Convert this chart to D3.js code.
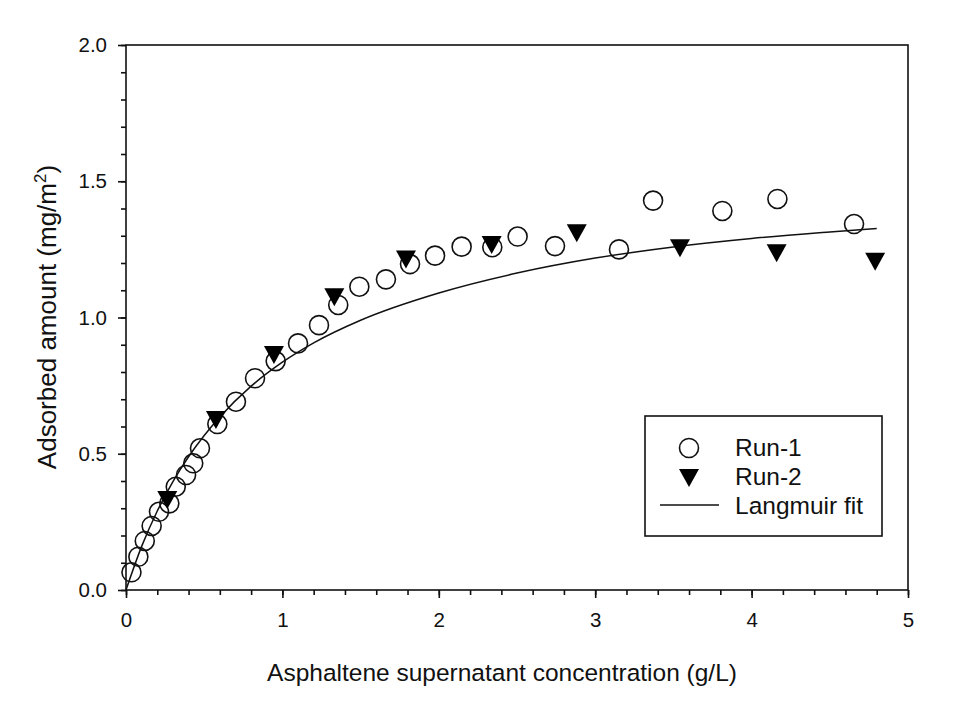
<!DOCTYPE html>
<html>
<head>
<meta charset="utf-8">
<script src="https://cdn.jsdelivr.net/npm/d3@7"></script>
<style>
  html, body { margin: 0; padding: 0; background: #fff; }
  svg { display: block; font-family: Arial, "Liberation Sans", sans-serif; }
</style>
</head>
<body>
<svg id="chart" width="957" height="713"></svg>
<script>
// Run-1 (open circles): supernatant concentration (g/L) vs adsorbed amount (mg/m2)
const run1X = [0.035, 0.079, 0.12, 0.164, 0.211, 0.277, 0.318, 0.384, 0.43, 0.473,
               0.584, 0.703, 0.825, 0.957, 1.10, 1.234, 1.357, 1.492, 1.662, 1.816,
               1.976, 2.146, 2.342, 2.504, 2.743, 3.152, 3.37, 3.813, 4.165, 4.655];
const run1Y = [0.065, 0.122, 0.18, 0.235, 0.287, 0.318, 0.379, 0.422, 0.465, 0.52,
               0.609, 0.691, 0.777, 0.84, 0.905, 0.972, 1.046, 1.113, 1.14, 1.196,
               1.227, 1.26, 1.258, 1.297, 1.262, 1.25, 1.429, 1.391, 1.435, 1.343];

// Run-2 (filled down triangles)
const run2X = [0.264, 0.575, 0.946, 1.332, 1.79, 2.338, 2.882, 3.542, 4.16, 4.79];
const run2Y = [0.33, 0.624, 0.862, 1.074, 1.213, 1.266, 1.309, 1.254, 1.236, 1.205];

// Langmuir fit curve, sampled along its length
const fitX = [0, 0.1, 0.2, 0.3, 0.4, 0.5, 0.6, 0.8, 1.0, 1.2, 1.5, 2.0, 2.5, 3.0, 3.5, 4.0, 4.5, 4.8];
const fitY = [0, 0.160, 0.290, 0.398, 0.489, 0.567, 0.635, 0.748, 0.836, 0.907, 0.990,
              1.090, 1.163, 1.218, 1.259, 1.290, 1.314, 1.327];

// Axis ticks
const xTicks = [0, 1, 2, 3, 4, 5];
const yTicks = [0.0, 0.5, 1.0, 1.5, 2.0];
const legendLabels = ["Run-1", "Run-2", "Langmuir fit"];

const svg = d3.select("#chart");
const plotLeft = 126, plotRight = 908, plotTop = 45, plotBottom = 590;

const x = d3.scaleLinear().domain([0, 5]).range([plotLeft, plotRight]);
const y = d3.scaleLinear().domain([0, 2]).range([plotBottom, plotTop]);

const axisStroke = 1.6;
const ink = "#111";

// minor ticks
const xMinor = d3.range(0, 5.0001, 0.2);
const yMinor = d3.range(0, 2.0001, 0.1);

const xAxisMinor = svg.append("g").attr("transform", `translate(0,${plotBottom})`)
  .call(d3.axisBottom(x).tickValues(xMinor).tickSize(5).tickFormat(""));
const xAxis = svg.append("g").attr("transform", `translate(0,${plotBottom})`)
  .call(d3.axisBottom(x).tickValues(xTicks).tickSize(8).tickPadding(14)
        .tickFormat(d3.format("d")));
const yAxisMinor = svg.append("g").attr("transform", `translate(${plotLeft},0)`)
  .call(d3.axisLeft(y).tickValues(yMinor).tickSize(5).tickFormat(""));
const yAxis = svg.append("g").attr("transform", `translate(${plotLeft},0)`)
  .call(d3.axisLeft(y).tickValues(yTicks).tickSize(8).tickPadding(11)
        .tickFormat(d3.format(".1f")));

[xAxisMinor, xAxis, yAxisMinor, yAxis].forEach(g => {
  g.attr("font-size", null).attr("font-family", null);
  g.selectAll("path.domain").remove();
  g.selectAll(".tick line").attr("stroke", ink).attr("stroke-width", axisStroke);
  g.selectAll(".tick text").attr("fill", ink).style("font-size", "20.5px")
    .style("font-family", "Arial, 'Liberation Sans', sans-serif");
});

// frame
svg.append("rect")
  .attr("x", plotLeft).attr("y", plotTop)
  .attr("width", plotRight - plotLeft).attr("height", plotBottom - plotTop)
  .attr("fill", "none").attr("stroke", ink).attr("stroke-width", axisStroke);

// axis titles
svg.append("text")
  .attr("x", 502).attr("y", 681)
  .attr("text-anchor", "middle")
  .style("font-size", "24.5px").attr("fill", ink)
  .text("Asphaltene supernatant concentration (g/L)");

const yt = svg.append("text")
  .attr("transform", `translate(56,317) rotate(-90)`)
  .attr("text-anchor", "middle")
  .style("font-size", "26px").attr("fill", ink);
yt.append("tspan").text("Adsorbed amount (mg/m");
yt.append("tspan").attr("dy", -10).style("font-size", "17px").text("2");
yt.append("tspan").attr("dy", 10).text(")");

// Langmuir fit line
const fitData = fitX.map((d, i) => [d, fitY[i]]);
svg.append("path")
  .datum(fitData)
  .attr("fill", "none").attr("stroke", ink).attr("stroke-width", 1.5)
  .attr("d", d3.line().x(d => x(d[0])).y(d => y(d[1])).curve(d3.curveMonotoneX));

// Run-1 circles
const r1 = run1X.map((d, i) => [d, run1Y[i]]);
svg.append("g").selectAll("circle").data(r1).join("circle")
  .attr("cx", d => x(d[0])).attr("cy", d => y(d[1])).attr("r", 9.5)
  .attr("fill", "none").attr("stroke", ink).attr("stroke-width", 1.6);

// Run-2 down triangles
const tri = (cx, cy, w, h) =>
  `M${cx - w / 2},${cy - h / 2}L${cx + w / 2},${cy - h / 2}L${cx},${cy + h / 2}Z`;
const r2 = run2X.map((d, i) => [d, run2Y[i]]);
svg.append("g").selectAll("path").data(r2).join("path")
  .attr("d", d => tri(x(d[0]), y(d[1]), 20, 18))
  .attr("fill", "#000");

// legend
const lg = svg.append("g");
lg.append("rect").attr("x", 645).attr("y", 416).attr("width", 237).attr("height", 120)
  .attr("fill", "#fff").attr("stroke", ink).attr("stroke-width", axisStroke);
lg.append("circle").attr("cx", 689).attr("cy", 448).attr("r", 9.5)
  .attr("fill", "none").attr("stroke", ink).attr("stroke-width", 1.6);
lg.append("path").attr("d", tri(689, 478, 20, 18)).attr("fill", "#000");
lg.append("line").attr("x1", 660).attr("x2", 719).attr("y1", 505).attr("y2", 505)
  .attr("stroke", ink).attr("stroke-width", 1.5);
const baselines = [456, 485, 514];
lg.selectAll("text.lab").data(legendLabels).join("text")
  .attr("class", "lab")
  .attr("x", 735).attr("y", (d, i) => baselines[i])
  .style("font-size", "24.5px").attr("fill", ink)
  .text(d => d);
</script>
</body>
</html>
